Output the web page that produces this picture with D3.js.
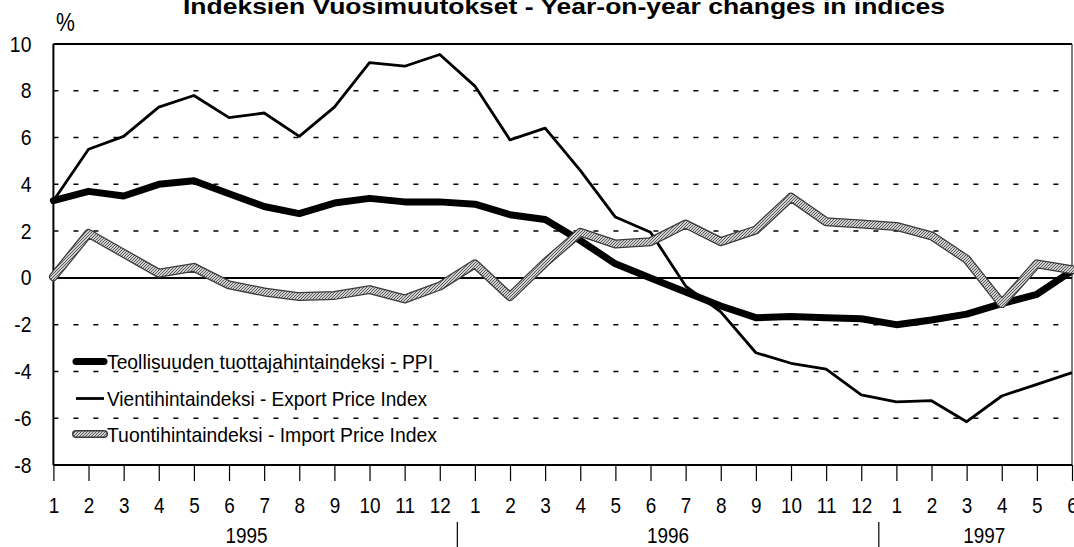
<!DOCTYPE html>
<html>
<head>
<meta charset="utf-8">
<script src="https://cdn.jsdelivr.net/npm/d3@7"></script>
<style>
  body { margin: 0; background: #fff; }
  svg { display: block; font-family: "Liberation Sans", Arial, sans-serif; }
</style>
</head>
<body>
<div id="chart"></div>
<script>
const WIDTH = 1074;
const HEIGHT = 547;
const PLOT = { left: 53.4, right: 1072, top: 44, bottom: 465 };

// month labels, 1/1995 .. 6/1997
const months = [1,2,3,4,5,6,7,8,9,10,11,12, 1,2,3,4,5,6,7,8,9,10,11,12, 1,2,3,4,5,6];
const years = ['1995', '1996', '1997'];
const monthsPerYear = [12, 12, 6];
const yTicks = [10, 8, 6, 4, 2, 0, -2, -4, -6, -8];

const ppi = [3.3, 3.7, 3.5, 4.0, 4.15, 3.6, 3.05, 2.75, 3.2, 3.4, 3.25, 3.25,
  3.15, 2.7, 2.5, 1.6, 0.6, 0.0, -0.6, -1.2, -1.7, -1.65, -1.7, -1.75,
  -2.0, -1.8, -1.55, -1.1, -0.7, 0.3];
const exportIdx = [3.3, 5.5, 6.05, 7.3, 7.8, 6.85, 7.05, 6.05, 7.3, 9.2, 9.05, 9.55,
  8.2, 5.9, 6.4, 4.6, 2.6, 1.95, -0.35, -1.45, -3.2, -3.65, -3.9, -5.0,
  -5.3, -5.25, -6.15, -5.05, -4.55, -4.05];
const importIdx = [0.05, 1.9, 1.05, 0.2, 0.45, -0.3, -0.6, -0.8, -0.75, -0.5, -0.9, -0.35,
  0.6, -0.8, 0.65, 1.95, 1.45, 1.55, 2.3, 1.55, 2.05, 3.45, 2.4, 2.3,
  2.2, 1.8, 0.8, -1.1, 0.6, 0.35];

const legendLabels = [
  'Teollisuuden tuottajahintaindeksi - PPI',
  'Vientihintaindeksi - Export Price Index',
  'Tuontihintaindeksi - Import Price Index'
];

const svg = d3.select('#chart').append('svg')
  .attr('width', WIDTH)
  .attr('height', HEIGHT);

// squeeze text sideways, the original uses a narrow face
const narrow = (sel, k) => sel.each(function() {
  const w = this.getComputedTextLength();
  d3.select(this).attr('textLength', w * k).attr('lengthAdjust', 'spacingAndGlyphs');
});

// hatch used for the import series
const defs = svg.append('defs');
const hatch = defs.append('pattern')
  .attr('id', 'hatch')
  .attr('patternUnits', 'userSpaceOnUse')
  .attr('width', 3).attr('height', 3);
hatch.append('rect').attr('width', 3).attr('height', 3).attr('fill', '#cfcfcf');
hatch.append('path').attr('d', 'M0,3 L3,0').attr('stroke', '#5a5a5a').attr('stroke-width', 1);

const x = d3.scaleLinear().domain([0, months.length - 1]).range([PLOT.left, PLOT.right]);
const y = d3.scaleLinear().domain([-8, 10]).range([PLOT.bottom, PLOT.top]);

// title + unit
svg.append('text')
  .attr('x', 564).attr('y', 14)
  .attr('text-anchor', 'middle')
  .attr('font-weight', 'bold')
  .attr('font-size', 22)
  .attr('textLength', 762)
  .attr('lengthAdjust', 'spacingAndGlyphs')
  .text('Indeksien Vuosimuutokset - Year-on-year changes in indices');

svg.append('text')
  .attr('x', 56).attr('y', 31)
  .attr('font-size', 25)
  .text('%')
  .call(narrow, 0.85);

// dashed grid
svg.append('g')
  .selectAll('line')
  .data(yTicks.filter(d => d !== 10 && d !== 0 && d !== -8))
  .join('line')
    .attr('x1', PLOT.left).attr('x2', PLOT.right)
    .attr('y1', d => y(d)).attr('y2', d => y(d))
    .attr('stroke', '#000')
    .attr('stroke-width', 1.5)
    .attr('stroke-dasharray', '5,15');

// frame
svg.append('line').attr('x1', PLOT.left).attr('x2', PLOT.right).attr('y1', PLOT.top).attr('y2', PLOT.top)
  .attr('stroke', '#000').attr('stroke-width', 2);
svg.append('line').attr('x1', PLOT.left).attr('x2', PLOT.right).attr('y1', PLOT.bottom).attr('y2', PLOT.bottom)
  .attr('stroke', '#000').attr('stroke-width', 2);
svg.append('line').attr('x1', PLOT.left).attr('x2', PLOT.left).attr('y1', PLOT.top).attr('y2', PLOT.bottom)
  .attr('stroke', '#000').attr('stroke-width', 2);
svg.append('line').attr('x1', PLOT.right).attr('x2', PLOT.right).attr('y1', PLOT.top).attr('y2', PLOT.bottom)
  .attr('stroke', '#000').attr('stroke-width', 1);
svg.append('line').attr('x1', PLOT.left).attr('x2', PLOT.right).attr('y1', y(0)).attr('y2', y(0))
  .attr('stroke', '#000').attr('stroke-width', 2);

// y axis labels
const yAxis = svg.append('g')
  .attr('transform', `translate(${PLOT.left},0)`)
  .call(d3.axisLeft(y).tickValues(yTicks).tickFormat(d => String(d)).tickSize(0).tickPadding(22));
yAxis.select('.domain').remove();
yAxis.selectAll('text').attr('font-size', 22).attr('fill', '#000')
  .attr('font-family', '"Liberation Sans", Arial, sans-serif')
  .call(narrow, 0.88);

// x axis: month ticks + labels
const xAxis = svg.append('g')
  .attr('transform', `translate(0,${PLOT.bottom})`)
  .call(d3.axisBottom(x).tickValues(d3.range(months.length))
    .tickFormat(i => months[i]).tickSize(16).tickPadding(16));
xAxis.select('.domain').remove();
xAxis.selectAll('line').attr('stroke', '#000').attr('stroke-width', 1.2);
xAxis.selectAll('text').attr('font-size', 22).attr('fill', '#000')
  .attr('font-family', '"Liberation Sans", Arial, sans-serif')
  .call(narrow, 0.86);

// year labels and separators
let start = 0;
const yearPos = monthsPerYear.map(n => {
  const p = { center: start + (n - 1) / 2, end: start + n - 0.5 };
  start += n;
  return p;
});
svg.append('g').selectAll('text')
  .data(years)
  .join('text')
    .attr('x', (d, i) => x(yearPos[i].center))
    .attr('y', 543)
    .attr('text-anchor', 'middle')
    .attr('font-size', 22)
    .text(d => d)
    .call(narrow, 0.86);
svg.append('g').selectAll('line')
  .data(yearPos.slice(0, -1))
  .join('line')
    .attr('x1', d => x(d.end)).attr('x2', d => x(d.end))
    .attr('y1', 522).attr('y2', 547)
    .attr('stroke', '#000').attr('stroke-width', 1.2);

// series
const line = d3.line().x((d, i) => x(i)).y(d => y(d));

svg.append('path').datum(ppi)
  .attr('d', line).attr('fill', 'none')
  .attr('stroke', '#000').attr('stroke-width', 7)
  .attr('stroke-linejoin', 'round').attr('stroke-linecap', 'round');

svg.append('path').datum(exportIdx)
  .attr('d', line).attr('fill', 'none')
  .attr('stroke', '#000').attr('stroke-width', 2.8)
  .attr('stroke-linejoin', 'round');

svg.append('path').datum(importIdx)
  .attr('d', line).attr('fill', 'none')
  .attr('stroke', '#3a3a3a').attr('stroke-width', 9)
  .attr('stroke-linejoin', 'round').attr('stroke-linecap', 'round');
svg.append('path').datum(importIdx)
  .attr('d', line).attr('fill', 'none')
  .attr('stroke', 'url(#hatch)').attr('stroke-width', 6.5)
  .attr('stroke-linejoin', 'round').attr('stroke-linecap', 'round');

// legend
const legendRows = [
  { label: legendLabels[0], y: 361.5, width: 326, draw: g => g.append('line').attr('stroke', '#000').attr('stroke-width', 7).attr('stroke-linecap', 'round') },
  { label: legendLabels[1], y: 398.5, width: 320, draw: g => g.append('line').attr('stroke', '#000').attr('stroke-width', 2.8) },
  { label: legendLabels[2], y: 434, width: 330, draw: g => {
      g.append('line').attr('stroke', '#3a3a3a').attr('stroke-width', 8).attr('stroke-linecap', 'round');
      g.append('line').attr('stroke', 'url(#hatch)').attr('stroke-width', 5).attr('stroke-linecap', 'round');
    } }
];
const legend = svg.append('g');
legendRows.forEach(r => {
  const g = legend.append('g');
  r.draw(g);
  g.selectAll('line').attr('x1', 76).attr('x2', 104).attr('y1', r.y).attr('y2', r.y);
  g.append('text')
    .attr('x', 107).attr('y', r.y + 7.5)
    .attr('font-size', 21)
    .attr('textLength', r.width)
    .attr('lengthAdjust', 'spacingAndGlyphs')
    .text(r.label);
});
</script>
</body>
</html>
